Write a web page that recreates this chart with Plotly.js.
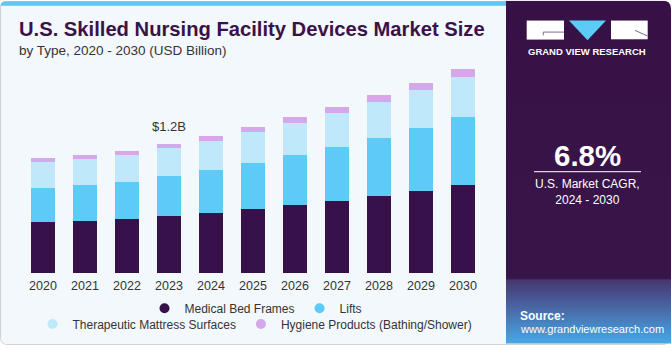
<!DOCTYPE html>
<html>
<head>
<meta charset="utf-8">
<script src="https://cdn.plot.ly/plotly-3.0.1.min.js"></script>
<style>
html,body{margin:0;padding:0;background:#ffffff;}
#chart{width:671px;height:350px;}
</style>
</head>
<body>
<div id="chart"></div>
<script>
// ---- data ----
const years = ["2020","2021","2022","2023","2024","2025","2026","2027","2028","2029","2030"];
const seriesNames = ["Medical Bed Frames","Lifts","Therapeutic Mattress Surfaces","Hygiene Products (Bathing/Shower)"];
const medicalBedFrames = [0.471,0.483,0.502,0.526,0.560,0.594,0.633,0.672,0.716,0.764,0.819];
const lifts            = [0.321,0.336,0.349,0.376,0.397,0.431,0.461,0.499,0.541,0.584,0.628];
const therapeuticMattressSurfaces = [0.239,0.239,0.244,0.261,0.272,0.284,0.300,0.317,0.333,0.355,0.379];
const hygieneProducts  = [0.040,0.040,0.043,0.039,0.046,0.049,0.055,0.055,0.064,0.064,0.071];
const highlightYear = "2023";
const cagrValue = "6.8%";
const cagrLabel = "U.S. Market CAGR,<br>2024 - 2030";

// ---- styling ----
const colors = ["#37114a","#5ccbf5","#bfe9fa","#d4a9ec"];
const W=671, H=350, L=22, R=484, T=60, B=276;
function px(x){return (x-L)/(R-L);}
function py(y){return (B-y)/(B-T);}

const seriesVals = [medicalBedFrames,lifts,therapeuticMattressSurfaces,hygieneProducts];
const traces = [];
seriesVals.forEach((vals,i)=>{
  traces.push({type:"bar",x:years,y:vals,name:seriesNames[i],marker:{color:colors[i],line:{width:0}},showlegend:false,hoverinfo:"x+y+name"});
});
seriesVals.forEach((vals,i)=>{
  traces.push({type:"scatter",mode:"markers",x:[years[0]],y:[null],name:seriesNames[i],
    marker:{color:colors[i],size:10,symbol:"circle"},showlegend:true,legend:(i<2?"legend":"legend2")});
});

const hi = years.indexOf(highlightYear);
const hiTotal = seriesVals.reduce((s,v)=>s+v[hi],0);

// background svg (card + right panel + logo marks)
const bgSvg = `<svg xmlns='http://www.w3.org/2000/svg' width='671' height='350' viewBox='0 0 671 350'>
<defs><linearGradient id='g' x1='0' y1='0' x2='0' y2='1'>
<stop offset='0' stop-color='#371146'/><stop offset='0.81' stop-color='#381549'/>
<stop offset='0.815' stop-color='#46376f'/><stop offset='0.9' stop-color='#4a69a8'/><stop offset='1' stop-color='#46a9e6'/></linearGradient></defs>
<rect x='0.5' y='0.5' width='669' height='348' rx='6' fill='#f3f8fc' stroke='#cfd3d8'/>
<path d='M0.5 6 Q0.5 0.5 6 0.5 H510 V5 H0.5 Z' fill='#62c6f0'/>
<path d='M506 0 H663 Q671 0 671 8 V347.5 H506 Z' fill='url(#g)'/>
<rect x='526.7' y='20' width='37.3' height='19.3' fill='#ffffff'/>
<path d='M543.3 35 V31.7 H564' stroke='#7d6b8c' stroke-width='1' fill='none'/>
<path d='M569 20 H606 L587.5 40 Z' fill='#5ccbf5'/>
<rect x='611' y='20' width='36.7' height='19' fill='#ffffff'/>
<path d='M635 30 L647.7 35.7' stroke='#7d6b8c' stroke-width='1' fill='none'/>
<line x1='534' y1='173.3' x2='641' y2='173.3' stroke='#d9d0e0' stroke-width='1.3'/>
</svg>`;
const bgUri = "data:image/svg+xml;charset=utf-8," + encodeURIComponent(bgSvg);

const font = "Liberation Sans, Arial, sans-serif";
const annotations = [
  {xref:"paper",yref:"paper",x:px(17),y:py(29),xanchor:"left",yanchor:"middle",showarrow:false,
   text:"<b>U.S. Skilled Nursing Facility Devices Market Size</b>",font:{family:font,size:20.2,color:"#3a1249"}},
  {xref:"paper",yref:"paper",x:px(17),y:py(50),xanchor:"left",yanchor:"middle",showarrow:false,
   text:"by Type, 2020 - 2030 (USD Billion)",font:{family:font,size:13.5,color:"#333333"}},
  {xref:"x",yref:"y",x:hi,y:hiTotal,xanchor:"center",yanchor:"bottom",yshift:8,showarrow:false,
   text:"$"+hiTotal.toFixed(1)+"B",font:{family:font,size:13,color:"#333333"}},
  {xref:"paper",yref:"paper",x:px(587.3),y:py(51),xanchor:"center",yanchor:"middle",showarrow:false,
   text:"<b>GRAND VIEW RESEARCH</b>",font:{family:font,size:9.5,color:"#ffffff"}},
  {xref:"paper",yref:"paper",x:px(587),y:py(156.7),xanchor:"center",yanchor:"middle",showarrow:false,
   text:"<b>"+cagrValue+"</b>",font:{family:font,size:29.5,color:"#ffffff"}},
  {xref:"paper",yref:"paper",x:px(587),y:py(193.7),xanchor:"center",yanchor:"middle",showarrow:false,
   text:cagrLabel,font:{family:font,size:12,color:"#ffffff"}},
  {xref:"paper",yref:"paper",x:px(518),y:py(319.5),xanchor:"left",yanchor:"middle",showarrow:false,
   text:"<b>Source:</b>",font:{family:font,size:12,color:"#ffffff"}},
  {xref:"paper",yref:"paper",x:px(518),y:py(333),xanchor:"left",yanchor:"middle",showarrow:false,
   text:"www.grandviewresearch.com",font:{family:font,size:11,color:"#ffffff"}}
];

const legendBase = {orientation:"h",xanchor:"center",yanchor:"middle",bgcolor:"rgba(0,0,0,0)",
  font:{family:font,size:12,color:"#333333"},itemwidth:30,traceorder:"normal"};

const layout = {
  width:W,height:H,
  margin:{l:L,r:W-R,t:T,b:H-B,pad:0},
  paper_bgcolor:"#ffffff",plot_bgcolor:"rgba(0,0,0,0)",
  barmode:"stack",bargap:0.45,
  font:{family:font,color:"#333333"},
  xaxis:{type:"category",categoryorder:"array",categoryarray:years,range:[-0.5,years.length-0.5],
    showgrid:false,zeroline:false,showline:false,ticklabelstandoff:3,
    ticks:"",tickfont:{family:font,size:12.5,color:"#333333"},fixedrange:true},
  yaxis:{range:[0,(B-T)/109],visible:false,showgrid:false,zeroline:false,fixedrange:true},
  legend:Object.assign({},legendBase,{x:px(256),y:py(311.7)}),
  legend2:Object.assign({},legendBase,{x:px(255),y:py(327.7)}),
  images:[{source:bgUri,xref:"paper",yref:"paper",x:px(0),y:py(0),sizex:W/(R-L),sizey:H/(B-T),
    xanchor:"left",yanchor:"top",sizing:"stretch",layer:"below"}],
  annotations:annotations,
  showlegend:true
};

Plotly.newPlot("chart",traces,layout,{displayModeBar:false,staticPlot:true});
</script>
</body>
</html>
